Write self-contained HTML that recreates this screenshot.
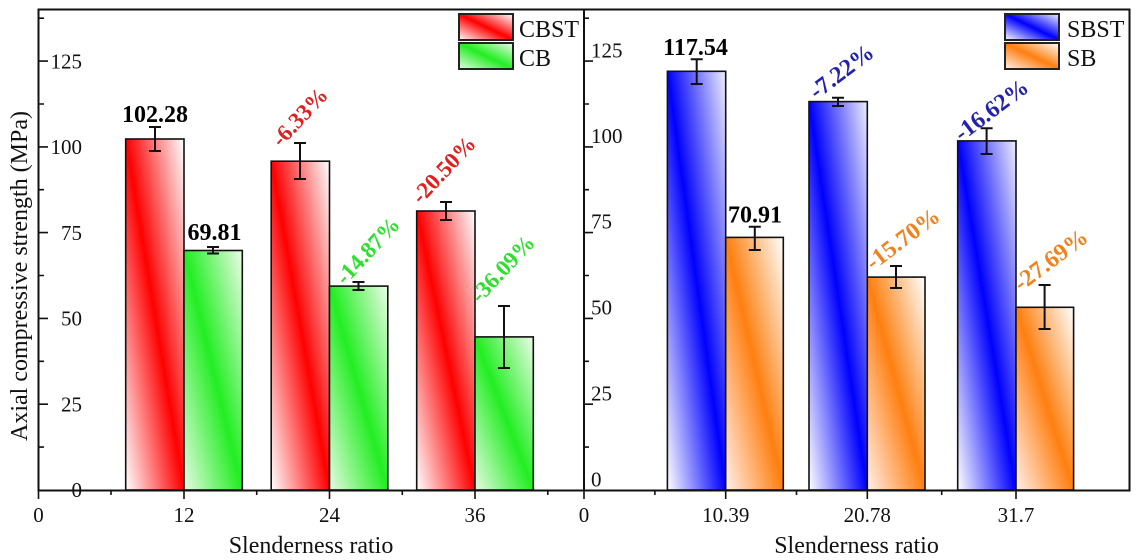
<!DOCTYPE html>
<html><head><meta charset="utf-8">
<style>
html,body{margin:0;padding:0;background:#fff;}
svg{display:block;}
text{font-family:"Liberation Serif","Times New Roman",serif;}
</style></head><body>
<svg width="1138" height="560" viewBox="0 0 1138 560" xmlns="http://www.w3.org/2000/svg">
<defs>
<linearGradient id="gR" x1="0" y1="1" x2="1" y2="0"><stop offset="0" stop-color="#ffffff"/><stop offset=".5" stop-color="#ff0000"/><stop offset="1" stop-color="#ffffff"/></linearGradient>
<linearGradient id="gG" x1="0" y1="1" x2="1" y2="0"><stop offset="0" stop-color="#e6fbe2"/><stop offset=".5" stop-color="#22ee22"/><stop offset="1" stop-color="#eefbe8"/></linearGradient>
<linearGradient id="gB" x1="0" y1="1" x2="1" y2="0"><stop offset="0" stop-color="#ffffff"/><stop offset=".5" stop-color="#0000ff"/><stop offset="1" stop-color="#eeeeff"/></linearGradient>
<linearGradient id="gO" x1="0" y1="1" x2="1" y2="0"><stop offset="0" stop-color="#fff0ea"/><stop offset=".5" stop-color="#ff7f10"/><stop offset="1" stop-color="#ffffff"/></linearGradient>
</defs>
<rect width="1138" height="560" fill="#fff"/>

<!-- Bars left -->
<g stroke="#111" stroke-width="1.6">
<rect x="125.7" y="139" width="58.3" height="351" fill="url(#gR)"/>
<rect x="184" y="250.5" width="58.3" height="239.5" fill="url(#gG)"/>
<rect x="271.2" y="161.2" width="58.3" height="328.8" fill="url(#gR)"/>
<rect x="329.5" y="286.1" width="58.3" height="203.9" fill="url(#gG)"/>
<rect x="416.7" y="211" width="58.3" height="279" fill="url(#gR)"/>
<rect x="475" y="336.9" width="58.3" height="153.1" fill="url(#gG)"/>
<!-- Bars right -->
<rect x="667.4" y="71.3" width="58.3" height="418.7" fill="url(#gB)"/>
<rect x="725.7" y="237.4" width="57.6" height="252.6" fill="url(#gO)"/>
<rect x="809" y="101.6" width="58.3" height="388.4" fill="url(#gB)"/>
<rect x="867.3" y="277.1" width="57.7" height="212.9" fill="url(#gO)"/>
<rect x="957.7" y="140.9" width="58.3" height="349.1" fill="url(#gB)"/>
<rect x="1016" y="307.3" width="57.6" height="182.7" fill="url(#gO)"/>
</g>

<!-- Error bars -->
<g stroke="#111" stroke-width="2" fill="none">
<path d="M155 127V151M149 127H161M149 151H161"/>
<path d="M213 247V253.5M207 247H219M207 253.5H219"/>
<path d="M300 143V179M294 143H306M294 179H306"/>
<path d="M358.5 282V290M352.5 282H364.5M352.5 290H364.5"/>
<path d="M446 202V220M440 202H452M440 220H452"/>
<path d="M504 306V368M498 306H510M498 368H510"/>
<path d="M696.7 59.3V84M690.7 59.3H702.7M690.7 84H702.7"/>
<path d="M754.8 226.7V250M748.8 226.7H760.8M748.8 250H760.8"/>
<path d="M838 97.7V106M832 97.7H844M832 106H844"/>
<path d="M896 266V288M890 266H902M890 288H902"/>
<path d="M986.6 128.3V154M980.6 128.3H992.6M980.6 154H992.6"/>
<path d="M1044.6 285V329M1038.6 285H1050.6M1038.6 329H1050.6"/>
</g>

<!-- Frame / axes -->
<g stroke="#111" stroke-width="2" fill="none">
<path d="M38.5 9.5H1129.5V490.5H38.5Z"/>
<path d="M584 9.5V490.5"/>
</g>
<!-- Ticks -->
<g stroke="#111" stroke-width="1.6">
<path d="M39 404.2H48M39 318.4H48M39 232.6H48M39 146.9H48M39 61.1H48"/>
<path d="M39 447.1H44M39 361.3H44M39 275.5H44M39 189.7H44M39 104H44M39 18.2H44"/>
<path d="M584 404.2H593M584 318.4H593M584 232.6H593M584 146.9H593M584 61.1H593"/>
<path d="M584 447.1H589M584 361.3H589M584 275.5H589M584 189.7H589M584 104H589M584 18.2H589"/>
<path d="M38.5 490V499M184 490V499M329.5 490V499M475 490V499"/>
<path d="M111 490V495M256.7 490V495M402.3 490V495M547.8 490V495"/>
<path d="M584 490V499M725.7 490V499M867.3 490V499M1016 490V499"/>
<path d="M654.9 490V495M796.5 490V495M941.7 490V495"/>
</g>

<!-- Y tick labels left -->
<g font-size="21" fill="#111" text-anchor="end">
<text x="82" y="497">0</text>
<text x="82" y="411.5">25</text>
<text x="82" y="325.7">50</text>
<text x="82" y="239.9">75</text>
<text x="82" y="154.2">100</text>
<text x="82" y="68.4">125</text>
</g>
<!-- Y tick labels right -->
<g font-size="21" fill="#111" text-anchor="start">
<text x="591" y="486.5">0</text>
<text x="591" y="400.5">25</text>
<text x="591" y="314.5">50</text>
<text x="591" y="228.5">75</text>
<text x="591" y="143">100</text>
<text x="591" y="57.3">125</text>
</g>
<!-- X tick labels -->
<g font-size="21" fill="#111" text-anchor="middle">
<text x="38.5" y="522">0</text>
<text x="184" y="522">12</text>
<text x="329.5" y="522">24</text>
<text x="475" y="522">36</text>
<text x="584" y="522">0</text>
<text x="725.7" y="522">10.39</text>
<text x="867.3" y="522">20.78</text>
<text x="1016" y="522">31.7</text>
</g>
<!-- Axis titles -->
<g font-size="24" fill="#111" text-anchor="middle">
<text x="311" y="553">Slenderness ratio</text>
<text x="856.5" y="553">Slenderness ratio</text>
<text transform="translate(27,276) rotate(-90)">Axial compressive strength (MPa)</text>
</g>

<!-- Legends -->
<g stroke="#222" stroke-width="2">
<rect x="459" y="14" width="54" height="26" fill="url(#gR)"/>
<rect x="459" y="43" width="54" height="26" fill="url(#gG)"/>
<rect x="1005" y="14" width="54" height="26" fill="url(#gB)"/>
<rect x="1005" y="43" width="54" height="26" fill="url(#gO)"/>
</g>
<g font-size="24" fill="#111">
<text x="519" y="37">CBST</text>
<text x="519" y="66">CB</text>
<text x="1067" y="37">SBST</text>
<text x="1067" y="66">SB</text>
</g>

<!-- Value labels -->
<g font-size="24" font-weight="bold" fill="#000" text-anchor="middle">
<text x="155" y="122">102.28</text>
<text x="214.5" y="240">69.81</text>
<text x="695.5" y="55">117.54</text>
<text x="755" y="222.5">70.91</text>
</g>

<!-- Percentage labels -->
<g font-weight="bold">
<g font-size="23">
<text fill="#e0201e" transform="translate(281,148) rotate(-47)">-6.33%</text>
<text fill="#2ee02e" transform="translate(345,286) rotate(-47)">-14.87%</text>
<text fill="#e0201e" transform="translate(421,205) rotate(-47)">-20.50%</text>
<text fill="#2ee02e" transform="translate(480,304) rotate(-47)">-36.09%</text>
</g>
<g font-size="24">
<text fill="#2323aa" transform="translate(816.6,100) rotate(-37)">-7.22%</text>
<text fill="#f0821e" transform="translate(873,271) rotate(-37)">-15.70%</text>
<text fill="#2323aa" transform="translate(961.6,142) rotate(-37)">-16.62%</text>
<text fill="#f0821e" transform="translate(1021,292) rotate(-37)">-27.69%</text>
</g>
</g>
</svg>
</body></html>
